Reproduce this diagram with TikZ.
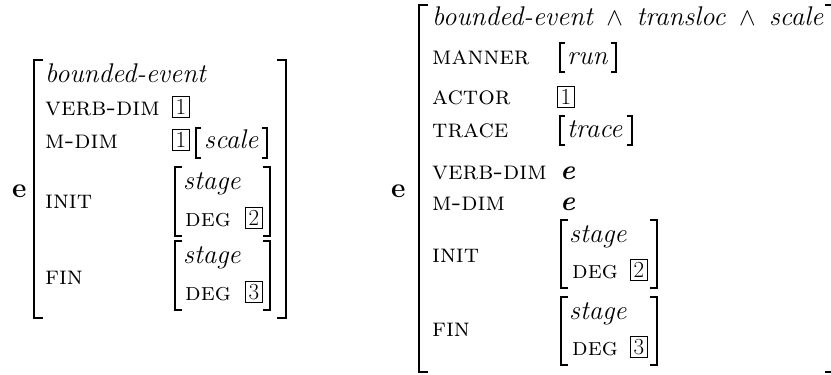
\documentclass[tikz,border=0pt]{standalone}
\begin{document}
\begin{tikzpicture}[x=1pt,y=-1pt,
  txt/.style={anchor=base west, inner sep=0pt, font=\fontsize{27}{32}\selectfont},
  lab/.style={anchor=base west, inner sep=0pt, font=\fontsize{26}{31}\selectfont\scshape},
  slab/.style={anchor=base west, inner sep=0pt, font=\fontsize{25}{30}\selectfont\scshape},
  tag/.style={draw, line width=0.7pt, inner sep=0pt, minimum width=17pt, minimum height=21pt, anchor=south west, font=\fontsize{23}{25}\selectfont},
  brk/.style={line width=2.6pt, line join=miter},
  sbrk/.style={line width=2.2pt, line join=miter},
  tbrk/.style={line width=1.5pt, line join=miter}]
\useasboundingbox (0,0) rectangle (831,375);
% ---------- left AVM ----------
\node[txt, font=\fontsize{28}{32}\selectfont\bfseries] (le) at (12,197) {e};
\draw[brk] (43,60) -| (34,318) -- (43,318);
\draw[brk] (277,60) -| (286,318) -- (277,318);
\node[txt] (lbe) at (45,82) {\itshape bounded-event};
\node[lab] (lvd) at (45,115) {verb-dim};
\node[tag] (lt1) at (172,118) {1};
\node[lab] (lmd) at (45,148) {m-dim};
\node[tag] (lt1b) at (172,151) {1};
\draw[tbrk] (201,128) -| (196,158) -- (201,158);
\draw[tbrk] (262,128) -| (267,158) -- (262,158);
\node[txt] (lsc) at (204,148) {\itshape scale};
\node[lab] (lin) at (45,208) {init};
\draw[sbrk] (182,167) -| (175,236) -- (182,236);
\draw[sbrk] (263,167) -| (270,236) -- (263,236);
\node[txt] (lst1) at (183,189) {\itshape stage};
\node[slab] (ldg1) at (185,226) {deg};
\node[tag] (lt2) at (245,229) {2};
\node[lab] (lfi) at (45,284) {fin};
\draw[sbrk] (182,241) -| (175,310) -- (182,310);
\draw[sbrk] (263,241) -| (270,310) -- (263,310);
\node[txt] (lst2) at (183,263) {\itshape stage};
\node[slab] (ldg2) at (185,300) {deg};
\node[tag] (lt3) at (245,303) {3};
% ---------- right AVM ----------
\node[txt, font=\fontsize{28}{32}\selectfont\bfseries] (re) at (391,197) {e};
\draw[brk] (428,5) -| (419,372) -- (428,372);
\draw[brk] (825,5) -| (834,372) -- (825,372);
\node[txt] (rhd) at (432,25) {\itshape bounded-event $\,\wedge\,$ transloc $\,\wedge\,$ scale};
\node[lab] (rma) at (432,64) {manner};
\draw[tbrk] (565,43) -| (560,72) -- (565,72);
\draw[tbrk] (611,43) -| (616,72) -- (611,72);
\node[txt] (rrun) at (567,64) {\itshape run};
\node[lab] (rac) at (432,104) {actor};
\node[tag] (rt1) at (557,108) {1};
\node[lab] (rtr) at (432,137) {trace};
\draw[tbrk] (565,116) -| (560,145) -- (565,145);
\draw[tbrk] (627,116) -| (632,145) -- (627,145);
\node[txt] (rtrv) at (567,137) {\itshape trace};
\node[lab] (rvd) at (432,179) {verb-dim};
\node[txt, font=\fontsize{28}{32}\selectfont\bfseries\itshape] (rve) at (560,179) {e};
\node[lab] (rmd) at (432,210) {m-dim};
\node[txt, font=\fontsize{28}{32}\selectfont\bfseries\itshape] (rme) at (560,210) {e};
\node[lab] (rin) at (432,262) {init};
\draw[sbrk] (568,220) -| (561,288) -- (568,288);
\draw[sbrk] (650,220) -| (657,288) -- (650,288);
\node[txt] (rst1) at (569,242) {\itshape stage};
\node[slab] (rdg1) at (572,278) {deg};
\node[tag] (rt2) at (630,281) {2};
\node[lab] (rfi) at (432,336) {fin};
\draw[sbrk] (568,297) -| (561,365) -- (568,365);
\draw[sbrk] (650,297) -| (657,365) -- (650,365);
\node[txt] (rst2) at (569,319) {\itshape stage};
\node[slab] (rdg2) at (572,355) {deg};
\node[tag] (rt3) at (630,358) {3};
\end{tikzpicture}
\end{document}
